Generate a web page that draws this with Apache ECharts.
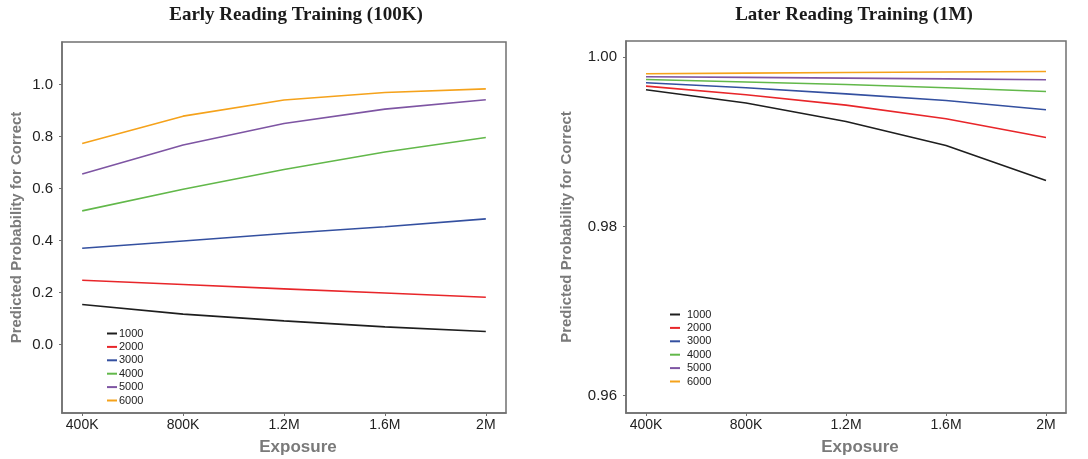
<!DOCTYPE html>
<html>
<head>
<meta charset="utf-8">
<script src="https://cdn.jsdelivr.net/npm/echarts@6/dist/echarts.min.js"></script>
<style>html,body{margin:0;padding:0;background:#fff;}#c{width:1088px;height:459px;}</style>
</head>
<body>
<div id="c"></div>
<script>
// ---- data ----
const exposure = [400000, 800000, 1200000, 1600000, 2000000];
const xTickLabels = ['400K', '800K', '1.2M', '1.6M', '2M'];
const groups = ['1000', '2000', '3000', '4000', '5000', '6000'];
const leftYTicks = [0.0, 0.2, 0.4, 0.6, 0.8, 1.0];
const rightYTicks = [0.96, 0.98, 1.00];

const early1000 = [0.154, 0.117, 0.091, 0.068, 0.050];
const early2000 = [0.247, 0.231, 0.214, 0.198, 0.182];
const early3000 = [0.370, 0.398, 0.427, 0.453, 0.483];
const early4000 = [0.514, 0.597, 0.673, 0.740, 0.796];
const early5000 = [0.656, 0.767, 0.850, 0.905, 0.941];
const early6000 = [0.773, 0.878, 0.940, 0.969, 0.983];

const later1000 = [0.99614, 0.99457, 0.99239, 0.98956, 0.98542];
const later2000 = [0.99657, 0.99555, 0.99433, 0.99271, 0.99050];
const later3000 = [0.99696, 0.99637, 0.99566, 0.99487, 0.99378];
const later4000 = [0.99735, 0.99705, 0.99676, 0.99637, 0.99594];
const later5000 = [0.99767, 0.99760, 0.99752, 0.99743, 0.99732];
const later6000 = [0.99803, 0.99810, 0.99818, 0.99824, 0.99830];

const early = [early1000, early2000, early3000, early4000, early5000, early6000];
const later = [later1000, later2000, later3000, later4000, later5000, later6000];
const colors = ['#1e1e1e', '#e8262a', '#3450a0', '#62b84a', '#7e55a3', '#f5a21b'];

// ---- chart ----
const chart = echarts.init(document.getElementById('c'));
const xLabelMap = {};
exposure.forEach((v, i) => { xLabelMap[v] = xTickLabels[i]; });

function xAxis(gi) {
  return {
    type: 'value', gridIndex: gi, min: 320000, max: 2080000,
    axisLine: { show: true, onZero: false, lineStyle: { color: '#707070', width: 1.5 } },
    axisTick: { show: true, length: 3, customValues: exposure, lineStyle: { color: '#707070' } },
    axisLabel: { customValues: exposure, margin: 5, fontSize: 14, color: '#222', fontFamily: 'Liberation Sans, Arial',
      formatter: v => xLabelMap[v] || '' },
    splitLine: { show: false },
    name: 'Exposure', nameLocation: 'middle', nameGap: 26,
    nameTextStyle: { fontSize: 17, fontWeight: 'bold', color: '#7a7a7a', fontFamily: 'Liberation Sans, Arial', padding: [0, 0, 0, 28] }
  };
}
function yAxis(gi, min, max, ticks, dec, gap) {
  return {
    type: 'value', gridIndex: gi, min: min, max: max,
    axisLine: { show: true, onZero: false, lineStyle: { color: '#707070', width: 1.5 } },
    axisTick: { show: true, length: 3, customValues: ticks, lineStyle: { color: '#707070' } },
    axisLabel: { customValues: ticks, margin: 9, fontSize: 15, color: '#222', fontFamily: 'Liberation Sans, Arial',
      formatter: v => Number(v).toFixed(dec) },
    splitLine: { show: false },
    name: 'Predicted Probability for Correct', nameLocation: 'middle', nameGap: gap,
    nameTextStyle: { fontSize: 15, fontWeight: 'bold', color: '#7a7a7a', fontFamily: 'Liberation Sans, Arial' }
  };
}

const series = [];
[early, later].forEach((set, gi) => {
  set.forEach((vals, k) => {
    series.push({
      name: groups[k], type: 'line', xAxisIndex: gi, yAxisIndex: gi,
      data: vals.map((v, i) => [exposure[i], v]),
      showSymbol: false, symbol: 'none', silent: true, animation: false,
      lineStyle: { color: colors[k], width: 1.6 }, itemStyle: { color: colors[k] }
    });
  });
});

function legend(left, top, pad) {
  return {
    orient: 'vertical', left: left, top: top, padding: 0, itemGap: 0.4,
    itemWidth: 10, itemHeight: 2, icon: 'rect', selectedMode: false,
    data: groups,
    textStyle: { fontSize: 11, lineHeight: 13, color: '#222', fontFamily: 'Liberation Sans, Arial', padding: pad }
  };
}

chart.setOption({
  animation: false,
  backgroundColor: '#fff',
  title: [
    { text: 'Early Reading Training (100K)', left: 296, top: 6, textAlign: 'center', padding: 0,
      textStyle: { fontFamily: 'Liberation Serif, Times New Roman', fontWeight: 'bold', fontSize: 19, color: '#1a1a1a' } },
    { text: 'Later Reading Training (1M)', left: 854, top: 6, textAlign: 'center', padding: 0,
      textStyle: { fontFamily: 'Liberation Serif, Times New Roman', fontWeight: 'bold', fontSize: 19, color: '#1a1a1a' } }
  ],
  grid: [
    { left: 62, right: 582, top: 42, bottom: 46, show: true, borderColor: '#707070', borderWidth: 1.5, backgroundColor: '#fff', containLabel: false, outerBoundsMode: 'none' },
    { left: 626, right: 22, top: 41, bottom: 46, show: true, borderColor: '#707070', borderWidth: 1.5, backgroundColor: '#fff', containLabel: false, outerBoundsMode: 'none' }
  ],
  legend: [legend(107, 327, [0, 0, 0, -3]), legend(670, 308, [0, 0, 0, 2])],
  xAxis: [xAxis(0), xAxis(1)],
  yAxis: [yAxis(0, -0.263, 1.163, leftYTicks, 1, 38), yAxis(1, 0.95796, 1.0019, rightYTicks, 2, 52)],
  series: series
});
</script>
</body>
</html>
